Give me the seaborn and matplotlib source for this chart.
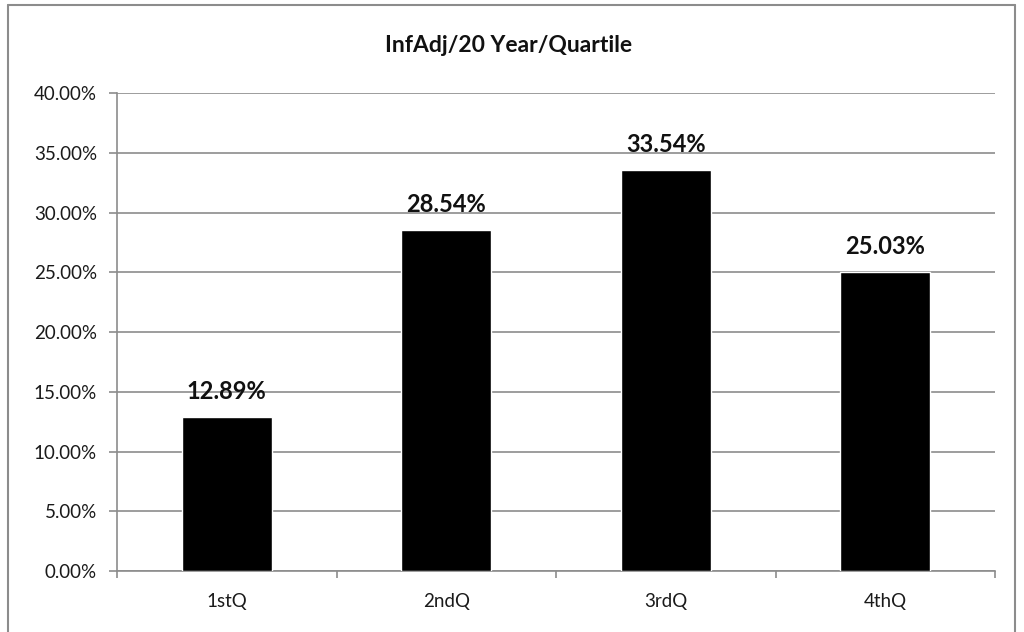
import matplotlib.pyplot as plt
import seaborn as sns
import pandas as pd
from matplotlib.lines import Line2D
from matplotlib.ticker import FuncFormatter

# Data
quartiles = ['1stQ', '2ndQ', '3rdQ', '4thQ']
shares = [12.89, 28.54, 33.54, 25.03]
y_ticks = [0, 5, 10, 15, 20, 25, 30, 35, 40]

df = pd.DataFrame({'Quartile': quartiles, 'Share': shares})

sns.set_style('white')
plt.rcParams['font.family'] = ['Lato', 'DejaVu Sans']

grey = '#8c8c8c'
fig = plt.figure(figsize=(10.24, 6.32), dpi=100)
ax = fig.add_axes([0.1143, 0.0965, 0.8574, 0.7563])

sns.barplot(data=df, x='Quartile', y='Share', color='black', width=0.41,
            saturation=1, ax=ax, zorder=3)

ax.set_ylim(0, 40)
ax.set_xlim(-0.5, 3.5)
ax.set_yticks(y_ticks)
ax.yaxis.set_major_formatter(FuncFormatter(lambda v, p: f'{v:.2f}%'))
ax.grid(True, axis='y', color=grey, linewidth=1.2, zorder=0)
ax.set_xlabel('')
ax.set_ylabel('')

# category boundary ticks like Excel
ax.set_xticks([-0.5, 0.5, 1.5, 2.5, 3.5], minor=True)
ax.tick_params(axis='x', which='major', length=0, labelsize=13.5, pad=16,
               labelcolor='#1a1a1a')
ax.tick_params(axis='x', which='minor', length=5, width=1.2, color=grey,
               direction='out', bottom=True)
ax.tick_params(axis='y', length=5.5, width=1.2, color=grey, left=True,
               labelsize=13.5, pad=9, labelcolor='#1a1a1a')

for s in ['top', 'right']:
    ax.spines[s].set_visible(False)
for s in ['left', 'bottom']:
    ax.spines[s].set_color(grey)
    ax.spines[s].set_linewidth(1.2)

for i, v in enumerate(shares):
    ax.annotate(f'{v:.2f}%', (i, v), xytext=(0, 10), textcoords='offset points',
                ha='center', va='bottom', fontsize=17, fontweight='bold',
                color='#111111')

fig.text(0.497, 0.928, 'InfAdj/20 Year/Quartile', ha='center', va='center',
         fontsize=16.5, fontweight='bold', color='#111111')

# chart frame
fx0, fx1, fy = 8 / 1024, 1015 / 1024, 1 - 5 / 632
fig.add_artist(Line2D([fx0, fx1], [fy, fy], color=grey, lw=1.5,
                      transform=fig.transFigure))
fig.add_artist(Line2D([fx0, fx0], [0, fy], color=grey, lw=1.5,
                      transform=fig.transFigure))
fig.add_artist(Line2D([fx1, fx1], [0, fy], color=grey, lw=1.5,
                      transform=fig.transFigure))

fig.savefig('out.png', dpi=100)
